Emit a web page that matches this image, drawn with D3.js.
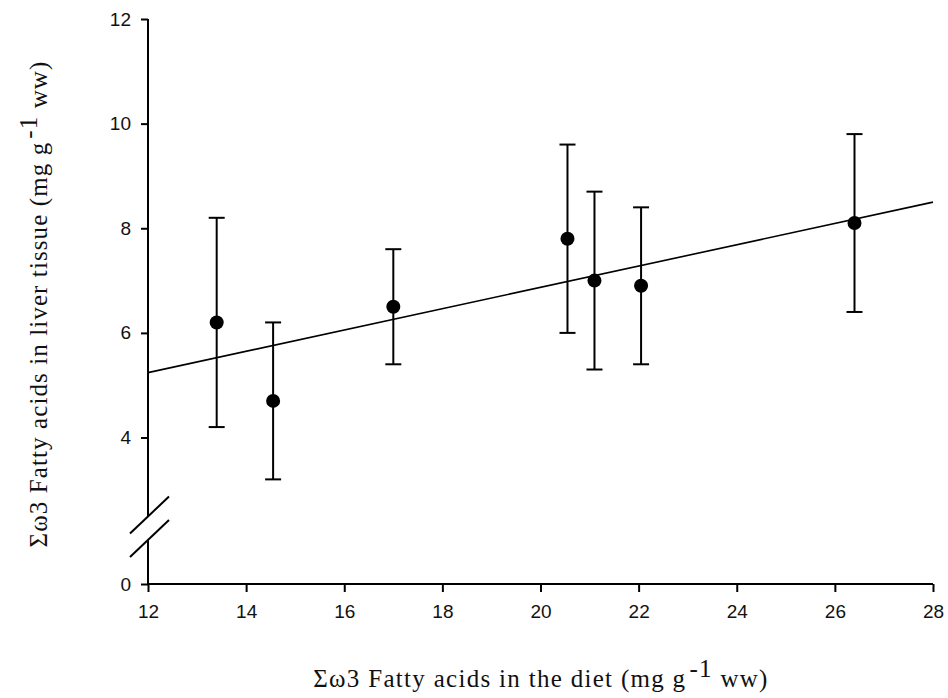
<!DOCTYPE html>
<html>
<head>
<meta charset="utf-8">
<script src="https://cdn.jsdelivr.net/npm/d3@7"></script>
<style>
body { margin: 0; background: #fff; }
</style>
</head>
<body>
<div id="chart"></div>
<script>
// data
var dietX = [13.4, 14.55, 17.0, 20.55, 21.1, 22.05, 26.4];
var liverY = [6.2, 4.7, 6.5, 7.8, 7.0, 6.9, 8.1];
var errLo = [4.2, 3.2, 5.4, 6.0, 5.3, 5.4, 6.4];
var errHi = [8.2, 6.2, 7.6, 9.6, 8.7, 8.4, 9.8];
var fitX = [12, 28];
var fitY = [5.24, 8.5];
var xTicks = [12, 14, 16, 18, 20, 22, 24, 26, 28];
var yTicks = [0, 4, 6, 8, 10, 12];

var w = 948, h = 698;
var svg = d3.select('#chart')
  .append("svg")
  .attr("width", w)
  .attr("height", h);

var x = d3.scaleLinear().domain([12, 28]).range([148, 933]);
// broken axis: lower piece is squeezed
var y = d3.scaleLinear().domain([0, 2.5, 12]).range([584, 516, 19]);
var breakLo = 1.62, breakHi = 2.48;

var tickFont = "'Liberation Sans', Arial, sans-serif";
var titleFont = "'Liberation Serif', 'Times New Roman', serif";

// x axis
var xAxis = d3.axisBottom(x).tickValues(xTicks).tickSize(8).tickPadding(8);
var gx = svg.append("g").attr("transform", "translate(0," + y(0) + ")").call(xAxis);
gx.select(".domain").attr("stroke-width", 2).attr("d", "M" + x(12) + ",0H" + x(28));
gx.selectAll(".tick line").attr("stroke-width", 2);
gx.selectAll(".tick text").attr("font-family", tickFont).attr("font-size", 19).attr("fill", "#111");
gx.selectAll(".tick text").attr("dy", "0.95em");

// y axis, drawn with the domain removed and rebuilt in two pieces
var yAxis = d3.axisLeft(y).tickValues(yTicks).tickSize(7).tickPadding(10);
var gy = svg.append("g").attr("transform", "translate(" + x(12) + ",0)").call(yAxis);
gy.select(".domain").remove();
gy.selectAll(".tick line").attr("stroke-width", 2);
gy.selectAll(".tick text").attr("font-family", tickFont).attr("font-size", 19).attr("fill", "#111");
gy.append("line").attr("x1", 0).attr("x2", 0).attr("y1", y(12)).attr("y2", y(breakHi))
  .attr("stroke", "#000").attr("stroke-width", 2);
gy.append("line").attr("x1", 0).attr("x2", 0).attr("y1", y(breakLo)).attr("y2", y(0) + 1)
  .attr("stroke", "#000").attr("stroke-width", 2);
// break marks
[breakHi, breakLo].forEach(function(v){
  gy.append("line")
    .attr("x1", -18).attr("y1", y(v) + 17)
    .attr("x2", 21).attr("y2", y(v) - 20)
    .attr("stroke", "#000").attr("stroke-width", 2);
});

// regression line
svg.append("line")
  .attr("x1", x(fitX[0])).attr("y1", y(fitY[0]))
  .attr("x2", x(fitX[1])).attr("y2", y(fitY[1]))
  .attr("stroke", "#000").attr("stroke-width", 1.6);

// error bars
var pts = dietX.map(function(d, i){ return {x: d, y: liverY[i], lo: errLo[i], hi: errHi[i]}; });
var eb = svg.append("g").attr("stroke", "#000").attr("stroke-width", 2);
pts.forEach(function(p){
  eb.append("line").attr("x1", x(p.x)).attr("x2", x(p.x)).attr("y1", y(p.hi)).attr("y2", y(p.lo));
  eb.append("line").attr("x1", x(p.x) - 8).attr("x2", x(p.x) + 8).attr("y1", y(p.hi)).attr("y2", y(p.hi));
  eb.append("line").attr("x1", x(p.x) - 8).attr("x2", x(p.x) + 8).attr("y1", y(p.lo)).attr("y2", y(p.lo));
});

svg.selectAll("circle.pt").data(pts).enter().append("circle")
  .attr("class", "pt")
  .attr("cx", function(d){ return x(d.x); })
  .attr("cy", function(d){ return y(d.y); })
  .attr("r", 7)
  .attr("fill", "#000");

// axis titles
var xt = svg.append("text")
  .attr("x", 541).attr("y", 687)
  .attr("text-anchor", "middle")
  .attr("letter-spacing", 1.3)
  .attr("font-family", titleFont).attr("font-size", 25).attr("fill", "#111");
xt.append("tspan").text("\u03A3\u03C93 Fatty acids in the diet (mg g");
xt.append("tspan").attr("dx", 3).attr("dy", -10).text("-1");
xt.append("tspan").attr("dy", 10).text(" ww)");

var yt = svg.append("text")
  .attr("transform", "translate(47,304) rotate(-90)")
  .attr("text-anchor", "middle")
  .attr("letter-spacing", 1.1)
  .attr("font-family", titleFont).attr("font-size", 25).attr("fill", "#111");
yt.append("tspan").text("\u03A3\u03C93 Fatty acids in liver tissue (mg g");
yt.append("tspan").attr("dx", 3).attr("dy", -10).text("-1");
yt.append("tspan").attr("dy", 10).text(" ww)");
</script>
</body>
</html>
